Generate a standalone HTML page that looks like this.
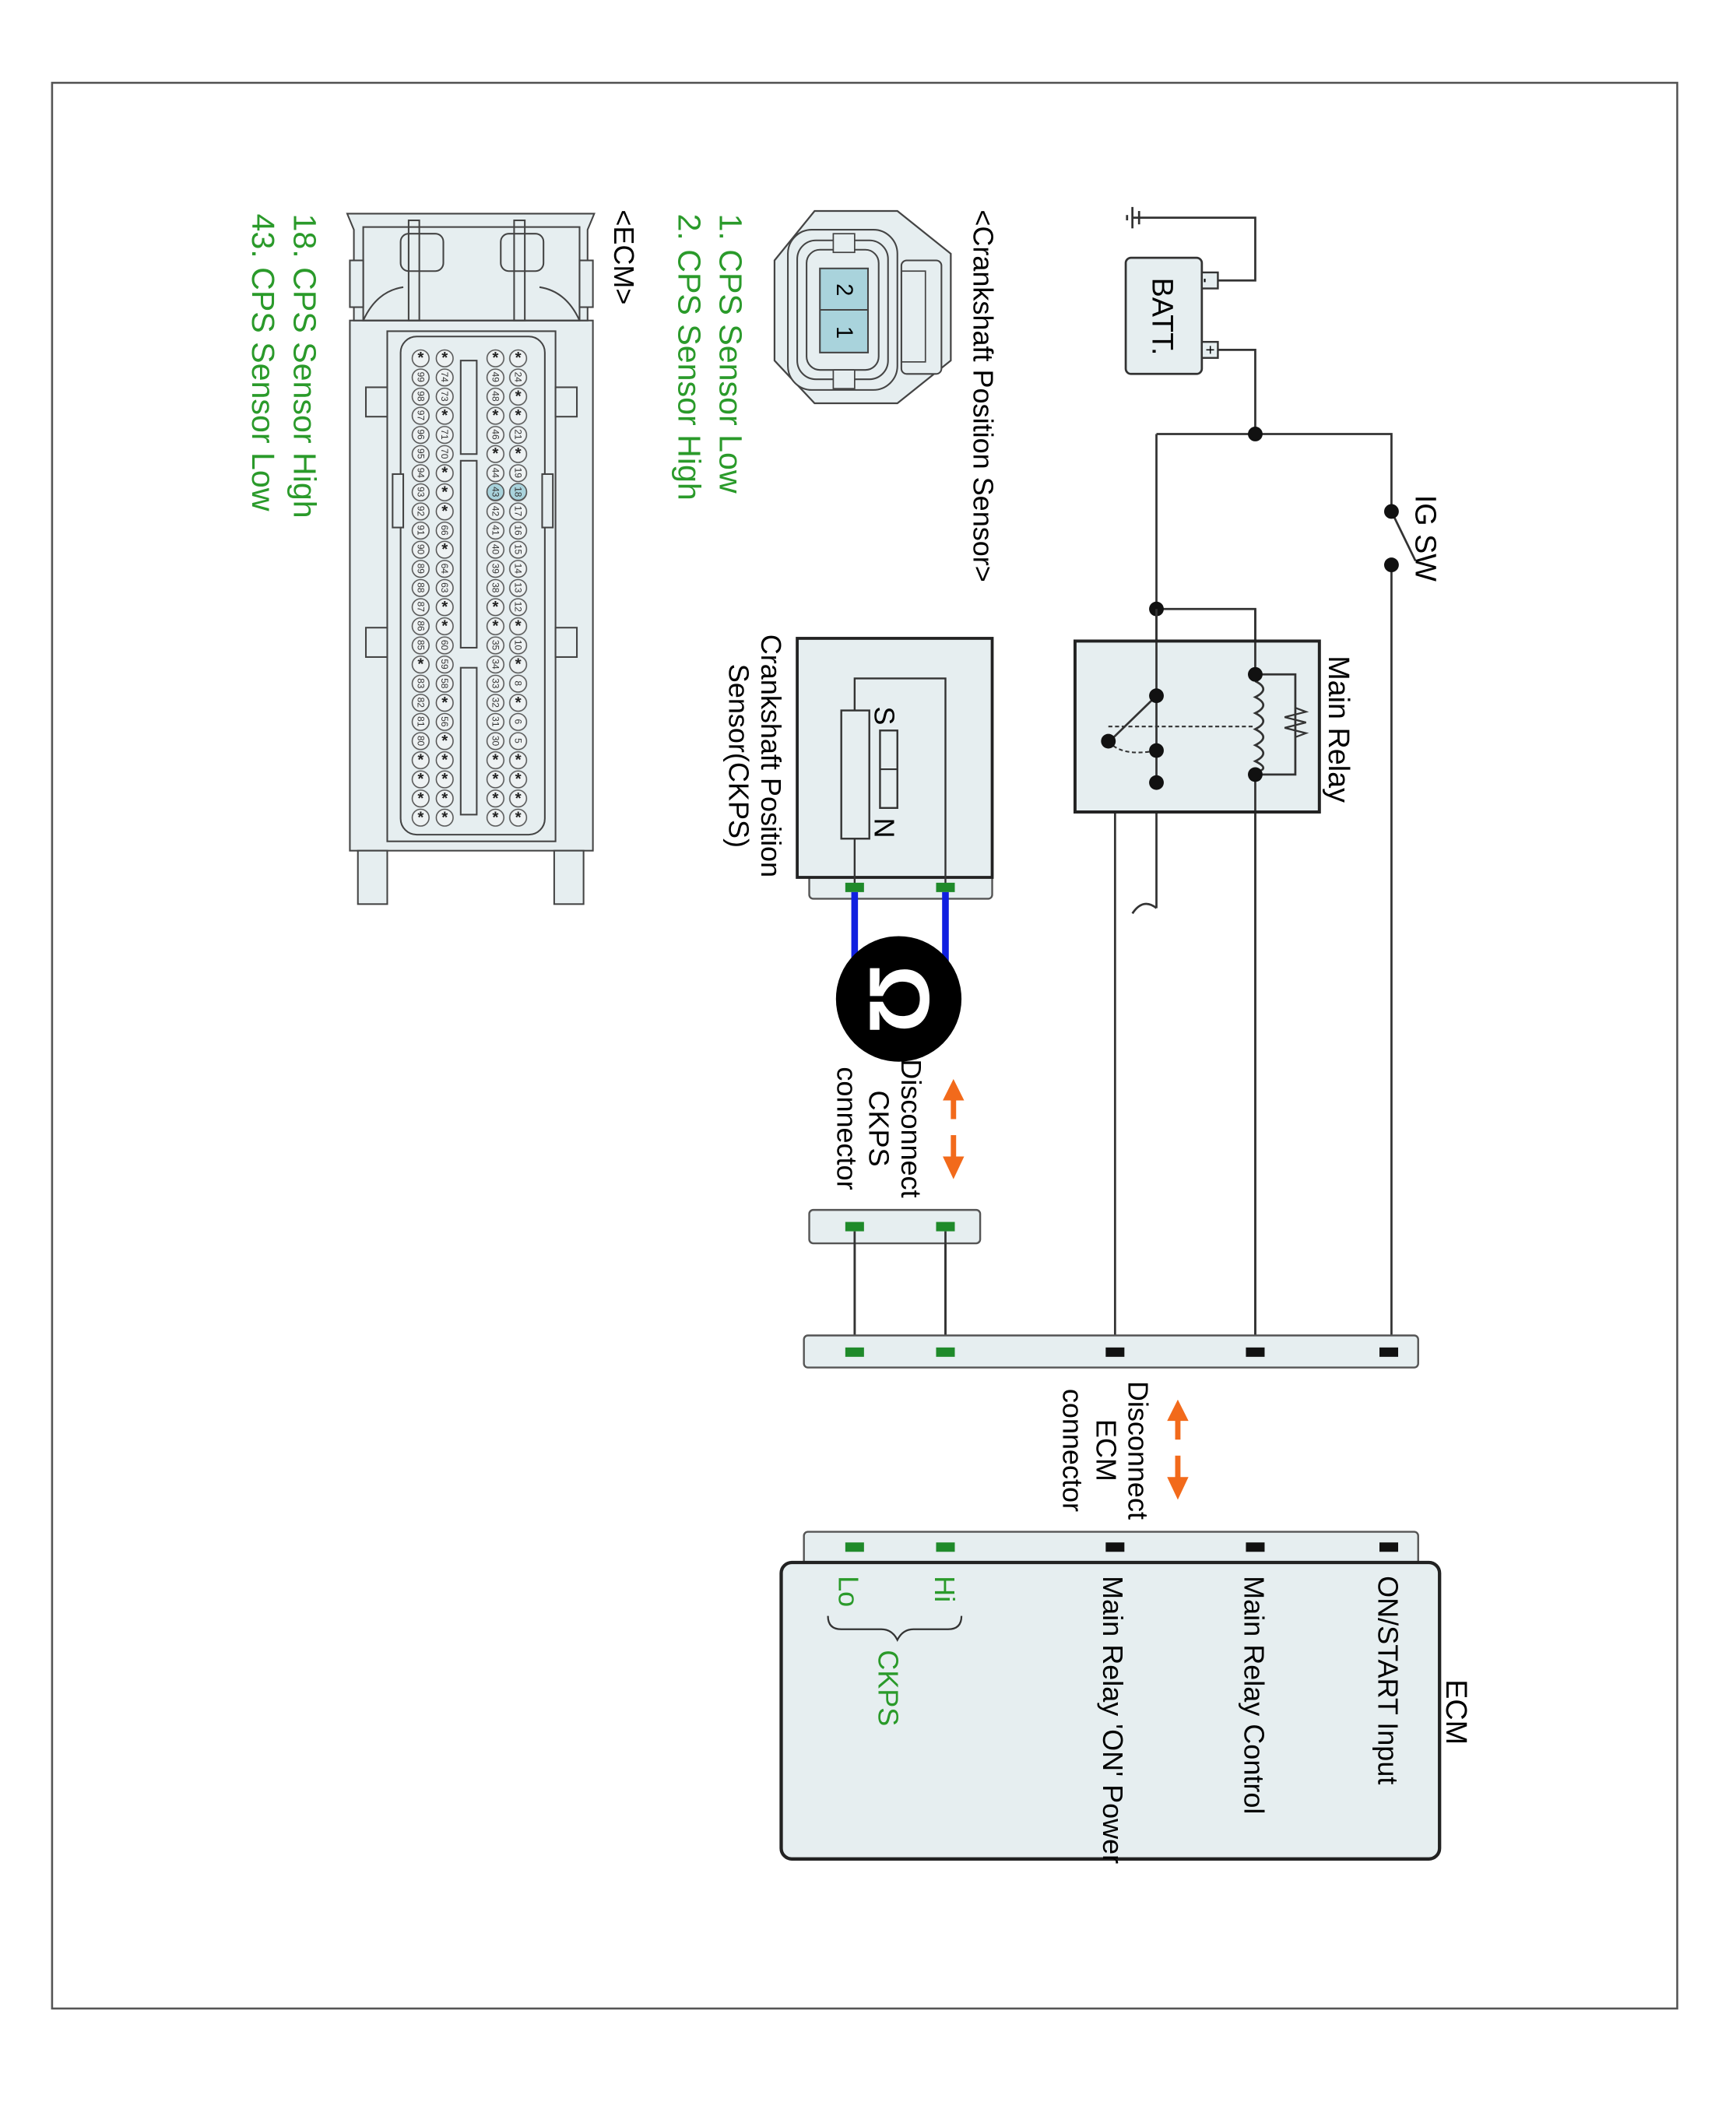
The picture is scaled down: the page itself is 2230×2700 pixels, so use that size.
<!DOCTYPE html>
<html><head><meta charset="utf-8"><style>
html,body{margin:0;padding:0;background:#fff;}
svg{display:block;}
text{font-family:"Liberation Sans",sans-serif;}
.pn{font-size:7px;text-anchor:middle;dominant-baseline:central;fill:#333;}
.st{font-size:12px;font-weight:bold;text-anchor:middle;dominant-baseline:central;fill:#222;}
</style></head><body>
<svg width="2230" height="2700" viewBox="0 0 1300 1574" preserveAspectRatio="none" xmlns="http://www.w3.org/2000/svg">
<defs>
<pattern id="pins" patternUnits="userSpaceOnUse" x="300" y="261.17" width="100" height="14.33">
<circle cx="15" cy="7.17" r="6.3" fill="#eef2f3" stroke="#555" stroke-width="0.9"/>
<circle cx="33" cy="7.17" r="6.3" fill="#eef2f3" stroke="#555" stroke-width="0.9"/>
<circle cx="71" cy="7.17" r="6.3" fill="#eef2f3" stroke="#555" stroke-width="0.9"/>
<circle cx="88" cy="7.17" r="6.3" fill="#eef2f3" stroke="#555" stroke-width="0.9"/>
</pattern>
</defs>
<rect x="39" y="62" width="1217" height="1442" fill="#fff" stroke="#555" stroke-width="1.5"/>

<!-- wiring -->
<g fill="none" stroke="#333" stroke-width="1.6">
<path d="M848,163 H940 V210 H912"/>
<path d="M912,262 H940 V325"/>
<path d="M866,325 H1042 V383"/>
<path d="M1042,423 V1012"/>
<path d="M866,325 V680"/>
<path d="M866,456 H940 V505"/>
<path d="M940,580 V1012"/>
<path d="M866,586 H835 V1012"/>
<path d="M1042,383 L1060,420"/>
<path d="M866,680 q-10,-8 -18,4"/>
<path d="M640,918 V1012 M708,918 V1012"/>
</g>
<!-- ground -->
<g stroke="#333" stroke-width="1.6"><line x1="848" y1="155" x2="848" y2="171"/><line x1="853" y1="158" x2="853" y2="168"/><line x1="844" y1="161" x2="844" y2="165"/></g>
<!-- battery -->
<rect x="843" y="193" width="57" height="87" rx="4" fill="#e6eef0" stroke="#333" stroke-width="1.6"/>
<rect x="900" y="204" width="12" height="12" fill="#e6eef0" stroke="#333" stroke-width="1.4"/>
<rect x="900" y="256" width="12" height="12" fill="#e6eef0" stroke="#333" stroke-width="1.4"/>
<text transform="translate(903,210) rotate(90)" font-size="10" text-anchor="middle" dominant-baseline="central" font-weight="bold">-</text>
<text transform="translate(906,262) rotate(90)" font-size="12" text-anchor="middle" dominant-baseline="central">+</text>
<text transform="translate(863,237) rotate(90)" font-size="22" text-anchor="middle">BATT.</text>
<circle cx="940" cy="325" r="5.5" fill="#111"/>
<circle cx="1042" cy="383" r="5.5" fill="#111"/>
<circle cx="1042" cy="423" r="5.5" fill="#111"/>
<circle cx="866" cy="456" r="5.5" fill="#111"/>
<text transform="translate(1060,403) rotate(90)" font-size="22" text-anchor="middle">IG SW</text>

<!-- main relay -->
<rect x="805" y="480" width="183" height="128" fill="#e6eef0" stroke="#222" stroke-width="2.2"/>
<g fill="none" stroke="#333" stroke-width="1.6">
<path d="M866,456 V586"/>
<path d="M940,456 V505 M940,580 V1012"/>
<path d="M940,505 H970 V580 H940"/>
<path d="M940,510 q12,6 0,12 q12,6 0,12 q12,6 0,12 q12,6 0,12 q12,6 0,12 q12,6 0,8"/>
<path d="M970,530 l8,3 -16,4 16,4 -16,4 16,4 -8,3" stroke-width="1.3"/>
<path d="M866,521 L832,554"/>
</g>
<line x1="830" y1="544" x2="940" y2="544" stroke="#333" stroke-width="1.2" stroke-dasharray="3,2"/>
<path d="M830,555 q10,12 36,7" fill="none" stroke="#333" stroke-width="1.2" stroke-dasharray="3,2"/>
<rect x="805" y="480" width="183" height="128" fill="none" stroke="#222" stroke-width="2.2"/>
<g fill="#111"><circle cx="940" cy="505" r="5.5"/><circle cx="940" cy="580" r="5.5"/><circle cx="866" cy="521" r="5.5"/><circle cx="866" cy="562" r="5.5"/><circle cx="866" cy="586" r="5.5"/><circle cx="830" cy="555" r="5.5"/></g>
<text transform="translate(995,546) rotate(90)" font-size="22" text-anchor="middle">Main Relay</text>

<!-- CKPS -->
<rect x="606" y="650" width="137" height="23" rx="3" fill="#e6eef0" stroke="#555" stroke-width="1.4"/>
<rect x="597" y="478" width="146" height="179" fill="#e6eef0" stroke="#222" stroke-width="2.2"/>
<path d="M640,664 V508 H708 V664" fill="none" stroke="#333" stroke-width="1.4"/>
<rect x="630" y="532" width="21" height="96" fill="#e6eef0" stroke="#333" stroke-width="1.4"/>
<rect x="659" y="547" width="13" height="58" fill="#e6eef0" stroke="#333" stroke-width="1.4"/>
<line x1="659" y1="576" x2="672" y2="576" stroke="#333" stroke-width="1.2"/>
<text transform="translate(655,536) rotate(90)" font-size="21" text-anchor="middle">S</text>
<text transform="translate(655,620) rotate(90)" font-size="21" text-anchor="middle">N</text>
<text transform="translate(570,566) rotate(90)" font-size="21" text-anchor="middle">Crankshaft Position</text>
<text transform="translate(546,566) rotate(90)" font-size="21" text-anchor="middle">Sensor(CKPS)</text>
<rect x="633" y="661" width="14" height="7" fill="#1f8a2a"/><rect x="701" y="661" width="14" height="7" fill="#1f8a2a"/>
<line x1="640" y1="668" x2="640" y2="725" stroke="#1020e0" stroke-width="5"/>
<line x1="708" y1="668" x2="708" y2="725" stroke="#1020e0" stroke-width="5"/>
<circle cx="673" cy="748" r="47" fill="#000"/>
<text transform="translate(673,748) rotate(90)" font-size="64" font-weight="bold" fill="#fff" text-anchor="middle" dominant-baseline="central">Ω</text>
<!-- orange arrows -->
<g stroke="#f26a1b" stroke-width="4" fill="#f26a1b">
<line x1="714" y1="822" x2="714" y2="838"/><path d="M706,824 L714,808 L722,824Z" stroke="none"/>
<line x1="714" y1="850" x2="714" y2="868"/><path d="M706,866 L714,883 L722,866Z" stroke="none"/>
<line x1="882" y1="1062" x2="882" y2="1078"/><path d="M874,1064 L882,1048 L890,1064Z" stroke="none"/>
<line x1="882" y1="1090" x2="882" y2="1108"/><path d="M874,1106 L882,1123 L890,1106Z" stroke="none"/>
</g>
<text transform="translate(675,845) rotate(90)" font-size="21" text-anchor="middle">Disconnect</text>
<text transform="translate(651,845) rotate(90)" font-size="21" text-anchor="middle">CKPS</text>
<text transform="translate(627,845) rotate(90)" font-size="21" text-anchor="middle">connector</text>
<rect x="606" y="906" width="128" height="25" rx="3" fill="#e6eef0" stroke="#555" stroke-width="1.4"/>
<rect x="633" y="915" width="14" height="7" fill="#1f8a2a"/><rect x="701" y="915" width="14" height="7" fill="#1f8a2a"/>
<line x1="640" y1="922" x2="640" y2="1012" stroke="#333" stroke-width="1.6"/><line x1="708" y1="922" x2="708" y2="1012" stroke="#333" stroke-width="1.6"/>

<!-- ECM connector -->
<rect x="602" y="1000" width="460" height="24" rx="3" fill="#e6eef0" stroke="#555" stroke-width="1.4"/>
<rect x="633" y="1009" width="14" height="7" fill="#1f8a2a"/><rect x="701" y="1009" width="14" height="7" fill="#1f8a2a"/>
<rect x="828" y="1009" width="14" height="7" fill="#111"/><rect x="933" y="1009" width="14" height="7" fill="#111"/><rect x="1033" y="1009" width="14" height="7" fill="#111"/>
<text transform="translate(845,1086) rotate(90)" font-size="21" text-anchor="middle">Disconnect</text>
<text transform="translate(821,1086) rotate(90)" font-size="21" text-anchor="middle">ECM</text>
<text transform="translate(796,1086) rotate(90)" font-size="21" text-anchor="middle">connector</text>
<rect x="602" y="1147" width="460" height="30" rx="3" fill="#e6eef0" stroke="#555" stroke-width="1.4"/>
<rect x="585" y="1170" width="493" height="222" rx="8" fill="#e6eef0" stroke="#222" stroke-width="2.5"/>
<rect x="633" y="1155" width="14" height="7" fill="#1f8a2a"/><rect x="701" y="1155" width="14" height="7" fill="#1f8a2a"/>
<rect x="828" y="1155" width="14" height="7" fill="#111"/><rect x="933" y="1155" width="14" height="7" fill="#111"/><rect x="1033" y="1155" width="14" height="7" fill="#111"/>
<text transform="translate(1083,1282) rotate(90)" font-size="22" text-anchor="middle">ECM</text>
<text transform="translate(1032,1180) rotate(90)" font-size="21">ON/START Input</text>
<text transform="translate(932,1180) rotate(90)" font-size="21">Main Relay Control</text>
<text transform="translate(826,1180) rotate(90)" font-size="21">Main Relay 'ON' Power</text>
<text transform="translate(700,1180) rotate(90)" font-size="21" fill="#2a9a2a">Hi</text>
<text transform="translate(628,1180) rotate(90)" font-size="21" fill="#2a9a2a">Lo</text>
<path d="M620,1210 q0,10 10,10 h30 q8,0 12,8 q4,-8 12,-8 h26 q10,0 10,-10" fill="none" stroke="#333" stroke-width="1.3"/>
<text transform="translate(658,1264) rotate(90)" font-size="21" fill="#2a9a2a" text-anchor="middle">CKPS</text>

<!-- Crankshaft sensor connector icon -->
<text transform="translate(729,157) rotate(90)" font-size="21">&lt;Crankshaft Position Sensor&gt;</text>
<path d="M580,195 L610,158 H672 L712,190 V270 L672,302 H610 L580,270 Z" fill="#e6eef0" stroke="#444" stroke-width="1.3"/>
<rect x="675" y="195" width="30" height="85" rx="4" fill="#e6eef0" stroke="#444" stroke-width="1.2"/>
<rect x="675" y="203" width="18" height="68" fill="none" stroke="#444" stroke-width="1"/>
<rect x="590" y="172" width="82" height="120" rx="18" fill="#e6eef0" stroke="#444" stroke-width="1.2"/>
<rect x="597" y="180" width="68" height="104" rx="14" fill="none" stroke="#444" stroke-width="1.2"/>
<rect x="604" y="187" width="54" height="90" rx="10" fill="none" stroke="#444" stroke-width="1.2"/>
<rect x="614" y="201" width="36" height="63" fill="#a9d3dc" stroke="#444" stroke-width="1.2"/>
<line x1="614" y1="232" x2="650" y2="232" stroke="#444" stroke-width="1.2"/>
<rect x="624" y="175" width="16" height="14" fill="#e6eef0" stroke="#444" stroke-width="1"/>
<rect x="624" y="277" width="16" height="14" fill="#e6eef0" stroke="#444" stroke-width="1"/>
<text transform="translate(632,217) rotate(90)" font-size="17" text-anchor="middle" dominant-baseline="central">2</text>
<text transform="translate(632,249) rotate(90)" font-size="17" text-anchor="middle" dominant-baseline="central">1</text>
<text transform="translate(539,160) rotate(90)" font-size="24" fill="#2a9a2a">1. CPS Sensor Low</text>
<text transform="translate(508,160) rotate(90)" font-size="24" fill="#2a9a2a">2. CPS Sensor High</text>
<text transform="translate(460,157) rotate(90)" font-size="21">&lt;ECM&gt;</text>
<text transform="translate(220,160) rotate(90)" font-size="24" fill="#2a9a2a">18. CPS Sensor High</text>
<text transform="translate(189,160) rotate(90)" font-size="24" fill="#2a9a2a">43. CPS Sensor Low</text>

<!-- ECM connector drawing -->
<g stroke="#444" stroke-width="1.2" fill="#e6eef0">
<rect x="262" y="240" width="182" height="397"/>
<path d="M265,240 V172 L260,160 H445 L440,172 V240 Z"/>
<rect x="272" y="170" width="162" height="70" fill="none"/>
<rect x="300" y="175" width="32" height="28" rx="6"/>
<rect x="375" y="175" width="32" height="28" rx="6"/>
<rect x="306" y="165" width="8" height="75" fill="none"/>
<rect x="385" y="165" width="8" height="75" fill="none"/>
<rect x="262" y="195" width="10" height="35"/>
<rect x="434" y="195" width="10" height="35"/>
<path d="M272,240 q10,-22 30,-25 M434,240 q-10,-22 -30,-25" fill="none"/>
<rect x="290" y="248" width="126" height="382"/>
<rect x="300" y="252" width="108" height="373" rx="12"/>
<rect x="274" y="290" width="16" height="22"/><rect x="416" y="290" width="16" height="22"/>
<rect x="274" y="470" width="16" height="22"/><rect x="416" y="470" width="16" height="22"/>
<rect x="294" y="355" width="8" height="40"/><rect x="406" y="355" width="8" height="40"/>
<rect x="268" y="637" width="22" height="40"/><rect x="415" y="637" width="22" height="40"/>
<rect x="345" y="270" width="12" height="70"/>
<rect x="345" y="345" width="12" height="140"/>
<rect x="345" y="500" width="12" height="110"/>
</g>
<rect x="300" y="261.17" width="100" height="358.3" fill="url(#pins)"/>
<circle cx="388" cy="368.3" r="6.3" fill="#a9d3dc" stroke="#555" stroke-width="0.9"/>
<circle cx="371" cy="368.3" r="6.3" fill="#a9d3dc" stroke="#555" stroke-width="0.9"/>
<!-- row 1 x=388 -->
<g transform="translate(388,0)">
<text class="st" transform="translate(0,268)">*</text><text class="pn" transform="translate(0,282.3) rotate(90)">24</text><text class="st" transform="translate(0,296.7)">*</text><text class="st" transform="translate(0,311)">*</text><text class="pn" transform="translate(0,325.3) rotate(90)">21</text><text class="st" transform="translate(0,339.7)">*</text><text class="pn" transform="translate(0,354) rotate(90)">19</text><text class="pn" transform="translate(0,368.3) rotate(90)">18</text><text class="pn" transform="translate(0,382.7) rotate(90)">17</text><text class="pn" transform="translate(0,397) rotate(90)">16</text><text class="pn" transform="translate(0,411.3) rotate(90)">15</text><text class="pn" transform="translate(0,425.7) rotate(90)">14</text><text class="pn" transform="translate(0,440) rotate(90)">13</text><text class="pn" transform="translate(0,454.3) rotate(90)">12</text><text class="st" transform="translate(0,468.7)">*</text><text class="pn" transform="translate(0,483) rotate(90)">10</text><text class="st" transform="translate(0,497.3)">*</text><text class="pn" transform="translate(0,511.7) rotate(90)">8</text><text class="st" transform="translate(0,526)">*</text><text class="pn" transform="translate(0,540.3) rotate(90)">6</text><text class="pn" transform="translate(0,554.7) rotate(90)">5</text><text class="st" transform="translate(0,569)">*</text><text class="st" transform="translate(0,583.3)">*</text><text class="st" transform="translate(0,597.7)">*</text><text class="st" transform="translate(0,612)">*</text>
</g>
<g transform="translate(371,0)">
<text class="st" transform="translate(0,268)">*</text><text class="pn" transform="translate(0,282.3) rotate(90)">49</text><text class="pn" transform="translate(0,296.7) rotate(90)">48</text><text class="st" transform="translate(0,311)">*</text><text class="pn" transform="translate(0,325.3) rotate(90)">46</text><text class="st" transform="translate(0,339.7)">*</text><text class="pn" transform="translate(0,354) rotate(90)">44</text><text class="pn" transform="translate(0,368.3) rotate(90)">43</text><text class="pn" transform="translate(0,382.7) rotate(90)">42</text><text class="pn" transform="translate(0,397) rotate(90)">41</text><text class="pn" transform="translate(0,411.3) rotate(90)">40</text><text class="pn" transform="translate(0,425.7) rotate(90)">39</text><text class="pn" transform="translate(0,440) rotate(90)">38</text><text class="st" transform="translate(0,454.3)">*</text><text class="st" transform="translate(0,468.7)">*</text><text class="pn" transform="translate(0,483) rotate(90)">35</text><text class="pn" transform="translate(0,497.3) rotate(90)">34</text><text class="pn" transform="translate(0,511.7) rotate(90)">33</text><text class="pn" transform="translate(0,526) rotate(90)">32</text><text class="pn" transform="translate(0,540.3) rotate(90)">31</text><text class="pn" transform="translate(0,554.7) rotate(90)">30</text><text class="st" transform="translate(0,569)">*</text><text class="st" transform="translate(0,583.3)">*</text><text class="st" transform="translate(0,597.7)">*</text><text class="st" transform="translate(0,612)">*</text>
</g>
<g transform="translate(333,0)">
<text class="st" transform="translate(0,268)">*</text><text class="pn" transform="translate(0,282.3) rotate(90)">74</text><text class="pn" transform="translate(0,296.7) rotate(90)">73</text><text class="st" transform="translate(0,311)">*</text><text class="pn" transform="translate(0,325.3) rotate(90)">71</text><text class="pn" transform="translate(0,339.7) rotate(90)">70</text><text class="st" transform="translate(0,354)">*</text><text class="st" transform="translate(0,368.3)">*</text><text class="st" transform="translate(0,382.7)">*</text><text class="pn" transform="translate(0,397) rotate(90)">66</text><text class="st" transform="translate(0,411.3)">*</text><text class="pn" transform="translate(0,425.7) rotate(90)">64</text><text class="pn" transform="translate(0,440) rotate(90)">63</text><text class="st" transform="translate(0,454.3)">*</text><text class="st" transform="translate(0,468.7)">*</text><text class="pn" transform="translate(0,483) rotate(90)">60</text><text class="pn" transform="translate(0,497.3) rotate(90)">59</text><text class="pn" transform="translate(0,511.7) rotate(90)">58</text><text class="st" transform="translate(0,526)">*</text><text class="pn" transform="translate(0,540.3) rotate(90)">56</text><text class="st" transform="translate(0,554.7)">*</text><text class="st" transform="translate(0,569)">*</text><text class="st" transform="translate(0,583.3)">*</text><text class="st" transform="translate(0,597.7)">*</text><text class="st" transform="translate(0,612)">*</text>
</g>
<g transform="translate(315,0)">
<text class="st" transform="translate(0,268)">*</text><text class="pn" transform="translate(0,282.3) rotate(90)">99</text><text class="pn" transform="translate(0,296.7) rotate(90)">98</text><text class="pn" transform="translate(0,311) rotate(90)">97</text><text class="pn" transform="translate(0,325.3) rotate(90)">96</text><text class="pn" transform="translate(0,339.7) rotate(90)">95</text><text class="pn" transform="translate(0,354) rotate(90)">94</text><text class="pn" transform="translate(0,368.3) rotate(90)">93</text><text class="pn" transform="translate(0,382.7) rotate(90)">92</text><text class="pn" transform="translate(0,397) rotate(90)">91</text><text class="pn" transform="translate(0,411.3) rotate(90)">90</text><text class="pn" transform="translate(0,425.7) rotate(90)">89</text><text class="pn" transform="translate(0,440) rotate(90)">88</text><text class="pn" transform="translate(0,454.3) rotate(90)">87</text><text class="pn" transform="translate(0,468.7) rotate(90)">86</text><text class="pn" transform="translate(0,483) rotate(90)">85</text><text class="st" transform="translate(0,497.3)">*</text><text class="pn" transform="translate(0,511.7) rotate(90)">83</text><text class="pn" transform="translate(0,526) rotate(90)">82</text><text class="pn" transform="translate(0,540.3) rotate(90)">81</text><text class="pn" transform="translate(0,554.7) rotate(90)">80</text><text class="st" transform="translate(0,569)">*</text><text class="st" transform="translate(0,583.3)">*</text><text class="st" transform="translate(0,597.7)">*</text><text class="st" transform="translate(0,612)">*</text>
</g>
</svg>
</body></html>
